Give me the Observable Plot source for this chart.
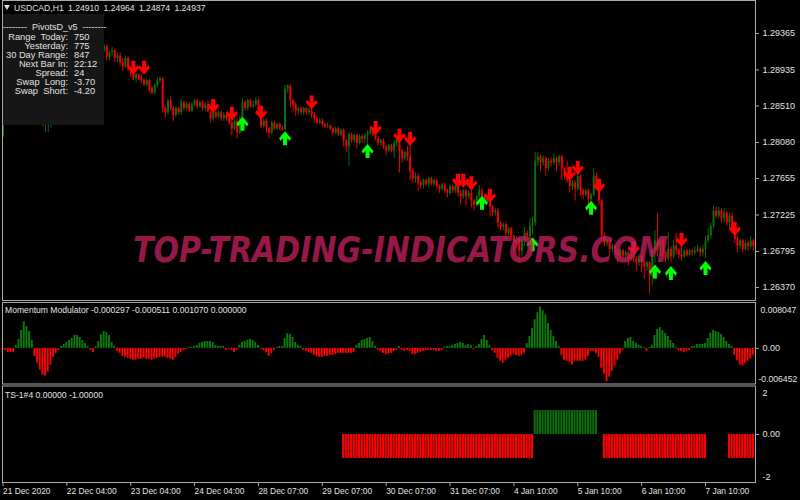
<!DOCTYPE html>
<html>
<head>
<meta charset="utf-8">
<script src="https://cdn.jsdelivr.net/npm/d3@7"></script>
<script src="https://cdn.jsdelivr.net/npm/@observablehq/plot@0.6"></script>
<style>
html,body{margin:0;padding:0;background:#000;}
#wrap{position:relative;width:800px;height:500px;overflow:hidden;background:#000;font-family:"Liberation Sans",Arial,sans-serif;color:#dcdcdc;}
#wrap svg{position:absolute;left:0;}
.t{position:absolute;white-space:pre;font-size:9px;line-height:10px;color:#e0e0e0;}
</style>
</head>
<body>
<div id="wrap"></div>
<script>
// ---------------- DATA ----------------
const opens = [
1.2816,1.2833,1.2831,1.2839,1.2836,1.2845,1.2840,1.2848,1.2852,1.2845,
1.2843,1.2850,1.2843,1.2838,1.2843,1.2836,1.2831,1.2838,1.2845,1.2852,
1.2859,1.2855,1.2864,1.2871,1.2866,1.2876,1.2885,1.2881,1.2892,1.2898,
1.2892,1.2904,1.2910,1.2904,1.2914,1.2909,1.2916,1.2921,1.2916,1.2921,
1.2908,1.2914,1.2916,1.2907,1.2910,1.2902,1.2897,1.2907,1.2895,1.2889,
1.2883,1.2888,1.2883,1.2881,1.2876,1.2881,1.2871,1.2866,1.2875,1.2881,
1.2883,1.2848,1.2843,1.2857,1.2848,1.2840,1.2848,1.2843,1.2855,1.2848,
1.2853,1.2845,1.2852,1.2857,1.2850,1.2855,1.2848,1.2852,1.2844,1.2836,
1.2843,1.2838,1.2843,1.2836,1.2840,1.2836,1.2831,1.2824,1.2833,1.2819,
1.2836,1.2855,1.2848,1.2857,1.2850,1.2852,1.2857,1.2843,1.2827,1.2833,
1.2824,1.2819,1.2831,1.2824,1.2829,1.2824,1.2823,1.2871,1.2874,1.2857,
1.2852,1.2845,1.2848,1.2843,1.2848,1.2843,1.2845,1.2840,1.2836,1.2831,
1.2833,1.2829,1.2826,1.2827,1.2824,1.2819,1.2824,1.2817,1.2822,1.2810,
1.2803,1.2817,1.2810,1.2816,1.2807,1.2815,1.2812,1.2816,1.2819,1.2822,
1.2817,1.2812,1.2807,1.2810,1.2803,1.2798,1.2804,1.2798,1.2807,1.2812,
1.2798,1.2789,1.2796,1.2791,1.2774,1.2765,1.2768,1.2760,1.2757,1.2763,
1.2759,1.2765,1.2759,1.2763,1.2756,1.2753,1.2758,1.2751,1.2748,1.2756,
1.2751,1.2756,1.2748,1.2744,1.2751,1.2744,1.2748,1.2739,1.2734,1.2744,
1.2751,1.2744,1.2739,1.2741,1.2732,1.2725,1.2727,1.2713,1.2708,1.2711,
1.2701,1.2706,1.2697,1.2689,1.2694,1.2680,1.2692,1.2701,1.2697,1.2709,
1.2713,1.2786,1.2791,1.2784,1.2789,1.2777,1.2786,1.2784,1.2789,1.2784,
1.2791,1.2777,1.2768,1.2763,1.2756,1.2760,1.2753,1.2768,1.2751,1.2746,
1.2751,1.2741,1.2746,1.2768,1.2757,1.2739,1.2698,1.2689,1.2692,1.2682,
1.2686,1.2680,1.2674,1.2680,1.2674,1.2678,1.2671,1.2675,1.2671,1.2666,
1.2674,1.2666,1.2661,1.2666,1.2650,1.2680,1.2692,1.2680,1.2692,1.2678,
1.2671,1.2682,1.2673,1.2686,1.2680,1.2675,1.2673,1.2680,1.2675,1.2680,
1.2678,1.2680,1.2682,1.2678,1.2682,1.2692,1.2698,1.2709,1.2727,1.2721,
1.2727,1.2718,1.2725,1.2713,1.2721,1.2704,1.2694,1.2686,1.2692,1.2682,
1.2689,1.2685,1.2692];
const highs = [
1.2836,1.2838,1.2843,1.2843,1.2850,1.2848,1.2852,1.2857,1.2855,1.2850,
1.2853,1.2852,1.2845,1.2848,1.2845,1.2839,1.2842,1.2848,1.2857,1.2863,
1.2864,1.2869,1.2875,1.2876,1.2881,1.2890,1.2890,1.2897,1.2904,1.2902,
1.2909,1.2916,1.2914,1.2918,1.2918,1.2921,1.2925,1.2924,1.2923,1.2923,
1.2916,1.2920,1.2918,1.2914,1.2914,1.2907,1.2910,1.2909,1.2897,1.2890,
1.2890,1.2889,1.2888,1.2883,1.2883,1.2882,1.2874,1.2877,1.2884,1.2885,
1.2884,1.2851,1.2859,1.2862,1.2850,1.2850,1.2850,1.2859,1.2857,1.2856,
1.2855,1.2855,1.2859,1.2859,1.2857,1.2857,1.2855,1.2857,1.2844,1.2845,
1.2845,1.2845,1.2845,1.2843,1.2843,1.2838,1.2835,1.2836,1.2836,1.2838,
1.2859,1.2857,1.2859,1.2859,1.2857,1.2861,1.2859,1.2843,1.2836,1.2836,
1.2826,1.2833,1.2833,1.2831,1.2831,1.2827,1.2875,1.2876,1.2876,1.2859,
1.2855,1.2850,1.2850,1.2850,1.2849,1.2848,1.2848,1.2843,1.2838,1.2836,
1.2836,1.2831,1.2831,1.2829,1.2826,1.2826,1.2826,1.2824,1.2824,1.2812,
1.2819,1.2819,1.2818,1.2818,1.2817,1.2817,1.2818,1.2822,1.2824,1.2824,
1.2818,1.2815,1.2812,1.2812,1.2805,1.2806,1.2806,1.2810,1.2815,1.2813,
1.2800,1.2798,1.2803,1.2804,1.2777,1.2772,1.2771,1.2763,1.2765,1.2765,
1.2767,1.2767,1.2765,1.2765,1.2758,1.2760,1.2760,1.2753,1.2758,1.2758,
1.2758,1.2757,1.2751,1.2753,1.2753,1.2751,1.2752,1.2741,1.2746,1.2757,
1.2754,1.2746,1.2744,1.2744,1.2734,1.2730,1.2730,1.2715,1.2713,1.2713,
1.2708,1.2708,1.2699,1.2697,1.2697,1.2694,1.2708,1.2704,1.2718,1.2720,
1.2796,1.2796,1.2793,1.2792,1.2791,1.2789,1.2790,1.2794,1.2791,1.2793,
1.2793,1.2779,1.2786,1.2764,1.2763,1.2763,1.2771,1.2770,1.2753,1.2753,
1.2753,1.2748,1.2777,1.2772,1.2759,1.2741,1.2701,1.2694,1.2694,1.2688,
1.2688,1.2682,1.2682,1.2682,1.2680,1.2680,1.2678,1.2676,1.2673,1.2676,
1.2676,1.2668,1.2668,1.2668,1.2682,1.2704,1.2724,1.2694,1.2694,1.2680,
1.2701,1.2685,1.2692,1.2701,1.2682,1.2685,1.2682,1.2682,1.2682,1.2682,
1.2685,1.2687,1.2685,1.2687,1.2697,1.2706,1.2713,1.2733,1.2732,1.2732,
1.2730,1.2730,1.2727,1.2725,1.2725,1.2705,1.2697,1.2694,1.2694,1.2692,
1.2692,1.2697,1.2694];
const lows = [
1.2813,1.2829,1.2830,1.2832,1.2833,1.2836,1.2838,1.2845,1.2842,1.2838,
1.2840,1.2838,1.2833,1.2835,1.2831,1.2826,1.2819,1.2820,1.2825,1.2850,
1.2851,1.2852,1.2862,1.2863,1.2864,1.2874,1.2876,1.2878,1.2890,1.2888,
1.2890,1.2901,1.2899,1.2902,1.2904,1.2907,1.2914,1.2910,1.2914,1.2904,
1.2904,1.2910,1.2902,1.2902,1.2898,1.2892,1.2895,1.2892,1.2885,1.2881,
1.2878,1.2881,1.2878,1.2874,1.2874,1.2866,1.2864,1.2864,1.2872,1.2878,
1.2843,1.2837,1.2840,1.2845,1.2833,1.2838,1.2840,1.2840,1.2845,1.2845,
1.2843,1.2843,1.2850,1.2848,1.2848,1.2845,1.2845,1.2843,1.2831,1.2833,
1.2836,1.2836,1.2833,1.2833,1.2833,1.2829,1.2816,1.2822,1.2812,1.2817,
1.2833,1.2845,1.2845,1.2848,1.2848,1.2850,1.2840,1.2824,1.2825,1.2819,
1.2812,1.2817,1.2822,1.2822,1.2822,1.2822,1.2822,1.2866,1.2849,1.2843,
1.2839,1.2840,1.2840,1.2840,1.2840,1.2840,1.2836,1.2831,1.2829,1.2829,
1.2826,1.2824,1.2824,1.2822,1.2816,1.2817,1.2815,1.2815,1.2803,1.2796,
1.2780,1.2807,1.2807,1.2800,1.2805,1.2807,1.2806,1.2806,1.2817,1.2815,
1.2810,1.2804,1.2803,1.2800,1.2792,1.2796,1.2796,1.2789,1.2803,1.2772,
1.2784,1.2786,1.2786,1.2763,1.2760,1.2760,1.2751,1.2753,1.2753,1.2756,
1.2756,1.2757,1.2756,1.2753,1.2748,1.2751,1.2748,1.2743,1.2746,1.2748,
1.2748,1.2744,1.2735,1.2741,1.2733,1.2741,1.2731,1.2727,1.2732,1.2741,
1.2741,1.2735,1.2737,1.2720,1.2721,1.2721,1.2706,1.2704,1.2704,1.2694,
1.2698,1.2692,1.2680,1.2685,1.2666,1.2674,1.2686,1.2692,1.2694,1.2699,
1.2709,1.2780,1.2774,1.2780,1.2768,1.2774,1.2779,1.2781,1.2774,1.2780,
1.2763,1.2765,1.2760,1.2748,1.2751,1.2739,1.2751,1.2744,1.2741,1.2744,
1.2733,1.2739,1.2744,1.2753,1.2733,1.2692,1.2685,1.2685,1.2674,1.2678,
1.2675,1.2666,1.2671,1.2671,1.2671,1.2662,1.2668,1.2666,1.2656,1.2662,
1.2654,1.2647,1.2656,1.2629,1.2639,1.2666,1.2673,1.2674,1.2671,1.2666,
1.2668,1.2666,1.2671,1.2675,1.2671,1.2668,1.2671,1.2673,1.2673,1.2674,
1.2675,1.2678,1.2673,1.2673,1.2671,1.2689,1.2694,1.2706,1.2718,1.2718,
1.2713,1.2713,1.2709,1.2708,1.2701,1.2689,1.2678,1.2682,1.2678,1.2680,
1.2680,1.2682,1.2680];
const closes = [
1.2833,1.2831,1.2839,1.2836,1.2845,1.2840,1.2848,1.2852,1.2845,1.2843,
1.2850,1.2843,1.2838,1.2843,1.2836,1.2831,1.2838,1.2845,1.2852,1.2859,
1.2855,1.2864,1.2871,1.2866,1.2876,1.2885,1.2881,1.2892,1.2898,1.2892,
1.2904,1.2910,1.2904,1.2914,1.2909,1.2916,1.2921,1.2916,1.2921,1.2908,
1.2914,1.2916,1.2907,1.2910,1.2902,1.2897,1.2907,1.2895,1.2889,1.2883,
1.2888,1.2883,1.2881,1.2876,1.2881,1.2871,1.2866,1.2875,1.2881,1.2883,
1.2848,1.2843,1.2857,1.2848,1.2840,1.2848,1.2843,1.2855,1.2848,1.2853,
1.2845,1.2852,1.2857,1.2850,1.2855,1.2848,1.2852,1.2845,1.2836,1.2843,
1.2838,1.2843,1.2836,1.2840,1.2836,1.2831,1.2824,1.2833,1.2819,1.2836,
1.2855,1.2848,1.2857,1.2850,1.2852,1.2857,1.2843,1.2827,1.2833,1.2824,
1.2819,1.2831,1.2824,1.2829,1.2824,1.2823,1.2871,1.2875,1.2857,1.2852,
1.2845,1.2848,1.2843,1.2848,1.2843,1.2845,1.2840,1.2836,1.2831,1.2833,
1.2829,1.2826,1.2827,1.2824,1.2819,1.2824,1.2817,1.2822,1.2810,1.2803,
1.2817,1.2810,1.2816,1.2807,1.2815,1.2812,1.2816,1.2819,1.2822,1.2817,
1.2812,1.2807,1.2810,1.2803,1.2798,1.2804,1.2798,1.2807,1.2812,1.2798,
1.2789,1.2796,1.2791,1.2774,1.2765,1.2768,1.2760,1.2757,1.2763,1.2759,
1.2765,1.2759,1.2763,1.2756,1.2753,1.2758,1.2751,1.2748,1.2756,1.2751,
1.2756,1.2748,1.2744,1.2751,1.2744,1.2748,1.2739,1.2734,1.2744,1.2751,
1.2744,1.2739,1.2741,1.2732,1.2725,1.2727,1.2713,1.2708,1.2711,1.2701,
1.2706,1.2697,1.2689,1.2694,1.2680,1.2692,1.2701,1.2697,1.2709,1.2713,
1.2786,1.2791,1.2784,1.2789,1.2777,1.2786,1.2784,1.2789,1.2784,1.2791,
1.2777,1.2768,1.2763,1.2756,1.2760,1.2753,1.2768,1.2751,1.2746,1.2751,
1.2741,1.2746,1.2768,1.2757,1.2739,1.2698,1.2689,1.2692,1.2682,1.2686,
1.2680,1.2674,1.2680,1.2674,1.2678,1.2671,1.2675,1.2671,1.2666,1.2674,
1.2666,1.2661,1.2666,1.2650,1.2680,1.2692,1.2680,1.2692,1.2678,1.2671,
1.2682,1.2673,1.2686,1.2680,1.2675,1.2673,1.2680,1.2675,1.2680,1.2678,
1.2680,1.2682,1.2678,1.2682,1.2692,1.2698,1.2709,1.2727,1.2721,1.2727,
1.2718,1.2725,1.2713,1.2721,1.2704,1.2694,1.2686,1.2692,1.2682,1.2689,
1.2685,1.2692,1.2685];

const momentum = [
-0.00038,-0.00038,-0.00077,-0.00077,-0.00077,0.00058,0.00173,0.00346,0.00518,0.00422,
0.00326,0.00154,-0.00154,-0.00288,-0.00422,-0.00518,-0.00538,-0.00461,-0.00326,-0.00173,
-0.00096,-0.00038,0.00038,0.00077,0.00115,0.00154,0.00192,0.00250,0.00250,0.00211,
0.00154,0.00096,0.00038,-0.00038,-0.00077,0.00038,0.00134,0.00269,0.00326,0.00307,
0.00250,0.00115,0.00038,-0.00058,-0.00096,-0.00154,-0.00173,-0.00192,-0.00211,-0.00230,
-0.00230,-0.00211,-0.00211,-0.00192,-0.00211,-0.00211,-0.00230,-0.00211,-0.00192,-0.00173,
-0.00173,-0.00173,-0.00192,-0.00211,-0.00230,-0.00173,-0.00115,-0.00077,-0.00038,-0.00019,
0.00019,0.00019,0.00038,0.00058,0.00096,0.00115,0.00134,0.00134,0.00134,0.00115,
0.00058,0.00038,0.00038,0.00038,-0.00038,-0.00019,-0.00038,-0.00077,-0.00038,0.00058,
0.00115,0.00134,0.00154,0.00173,0.00154,0.00115,0.00058,-0.00019,-0.00038,-0.00077,
-0.00154,-0.00096,-0.00038,0.00019,0.00038,0.00038,0.00192,0.00288,0.00269,0.00211,
0.00115,0.00058,0.00038,-0.00038,-0.00058,-0.00077,-0.00096,-0.00134,-0.00154,-0.00173,
-0.00173,-0.00154,-0.00154,-0.00134,-0.00134,-0.00115,-0.00096,-0.00096,-0.00096,-0.00096,
-0.00096,-0.00096,-0.00077,0.00058,0.00096,0.00154,0.00173,0.00192,0.00211,0.00134,
0.00038,-0.00038,-0.00058,-0.00096,-0.00115,-0.00115,-0.00096,-0.00058,-0.00038,0.00038,
-0.00038,-0.00058,-0.00038,-0.00058,-0.00115,-0.00115,-0.00096,-0.00077,-0.00058,-0.00038,
-0.00038,-0.00038,-0.00038,-0.00058,-0.00058,-0.00038,0.00019,0.00038,0.00038,0.00058,
0.00077,0.00096,0.00115,0.00096,0.00058,0.00077,0.00058,-0.00019,0.00038,0.00077,
0.00173,0.00250,0.00154,0.00058,-0.00038,-0.00096,-0.00192,-0.00250,-0.00288,-0.00230,
-0.00192,-0.00154,-0.00115,-0.00134,-0.00154,-0.00134,-0.00096,0.00096,0.00230,0.00384,
0.00557,0.00691,0.008047,0.00730,0.00653,0.00480,0.00346,0.00230,0.00134,0.00038,
-0.00134,-0.00230,-0.00250,-0.00269,-0.00326,-0.00250,-0.00250,-0.00250,-0.00250,-0.00230,
-0.00154,-0.00058,-0.00058,-0.00096,-0.00173,-0.00384,-0.00499,-0.006452,-0.00557,-0.00442,
-0.00346,-0.00230,-0.00115,-0.00038,0.00134,0.00192,0.00211,0.00134,0.00096,0.00058,
0.00038,0.00019,-0.00058,0.00019,0.00058,0.00250,0.00365,0.00403,0.00346,0.00288,
0.00230,0.00154,0.00096,0.00019,-0.00038,-0.00058,-0.00077,-0.00058,-0.00038,0.00038,
0.00038,0.00077,0.00077,0.00077,0.00096,0.00192,0.00288,0.00346,0.00326,0.00307,
0.00269,0.00211,0.00134,0.00077,0.00038,-0.00134,-0.00230,-0.00326,-0.00346,-0.00288,
-0.00250,-0.00211,-0.00134];

// TS-1 signal runs (bar index from, to, value)
const tsRunStart = [128, 200, 226, 273];
const tsRunEnd   = [199, 223, 264, 282];
const tsRunValue = [-1, 1, -1, -1];

// arrow signals (bar index, price)
const downBar = [49,53,79,86,97,116,140,149,153,171,173,176,183,213,216,224,237,255,275];
const downPrice = [1.2896,1.2896,1.2851,1.2842,1.2843,1.2855,1.2825,1.2816,1.2812,1.2763,1.2763,1.2760,1.2745,1.2771,1.2778,1.2757,1.2683,1.2693,1.2706];
const upBar = [90,106,137,180,199,221,245,251,264];
const upPrice = [1.2830,1.2813,1.2798,1.2737,1.2688,1.2731,1.2656,1.2654,1.2660];

const priceTicks = [1.29365,1.28935,1.28510,1.28080,1.27655,1.27225,1.26795,1.26370];
const timeTickBars = [0,24,48,72,96,120,144,168,192,216,240,264];
const timeTickLabels = ["21 Dec 2020","22 Dec 04:00","23 Dec 04:00","24 Dec 04:00","28 Dec 07:00","29 Dec 07:00","30 Dec 07:00","31 Dec 07:00","4 Jan 10:00","5 Jan 10:00","6 Jan 10:00","7 Jan 10:00"];

const headerText = "USDCAD,H1 1.24910 1.24964 1.24874 1.24937";
const pivotTitle = "--------  PivotsD_v5  --------";
const pivotLabels = ["Range  Today:","Yesterday:","30 Day Range:","Next Bar In:","Spread:","Swap  Long:","Swap  Short:"];
const pivotValues = ["750","775","847","22:12","24","-3.70","-4.20"];
const momLabel = "Momentum Modulator -0.000297 -0.000511 0.001070 0.000000";
const tsLabel = "TS-1#4 0.00000 -1.00000";
const watermark = "TOP-TRADING-INDICATORS.COM";

// ---------------- TABLES ----------------
const candles = opens.map((o, i) => ({i, o, h: highs[i], l: lows[i], c: closes[i]}));
const bull = candles.filter(d => d.c >= d.o);
const bear = candles.filter(d => d.c < d.o);
const mom = momentum.map((v, i) => ({i, v}));
const ts = [];
tsRunStart.forEach((s, k) => { for (let i = s; i <= tsRunEnd[k]; i++) ts.push({i, v: tsRunValue[k]}); });
const downs = downBar.map((i, k) => ({i, p: downPrice[k]}));
const ups = upBar.map((i, k) => ({i, p: upPrice[k]}));

const arrowDown = {draw(ctx){
  ctx.moveTo(-2,-7); ctx.lineTo(2,-7); ctx.lineTo(2,0); ctx.lineTo(4.6,-2.6); ctx.lineTo(6,0);
  ctx.lineTo(0,7); ctx.lineTo(-6,0); ctx.lineTo(-4.6,-2.6); ctx.lineTo(-2,0); ctx.closePath();
}};
const arrowUp = {draw(ctx){
  ctx.moveTo(-2,7); ctx.lineTo(2,7); ctx.lineTo(2,0); ctx.lineTo(4.6,2.6); ctx.lineTo(6,0);
  ctx.lineTo(0,-7); ctx.lineTo(-6,0); ctx.lineTo(-4.6,2.6); ctx.lineTo(-2,0); ctx.closePath();
}};

const BULL = "#0b6e0b", BEAR = "#f00000", FRAME = "#aaaaaa";
const xScale = {domain: [0, 282], range: [2.5, 752.9], axis: null};
const baseStyle = {background: "transparent", color: "#e0e0e0", fontFamily: "Liberation Sans, Arial, sans-serif", fontSize: "9px", overflow: "visible"};
const wrap = document.getElementById("wrap");

// ---------------- MAIN PRICE PANEL ----------------
const A = Plot.plot({
  width: 800, height: 301, marginLeft: 2, marginRight: 45, marginTop: 0, marginBottom: 1,
  style: baseStyle,
  x: xScale,
  y: {domain: [1.26217, 1.29754], range: [300, 0]},
  marks: [
    Plot.ruleX(bull, {x: "i", y1: "l", y2: "h", stroke: BULL, strokeWidth: 1}),
    Plot.ruleX(bear, {x: "i", y1: "l", y2: "h", stroke: BEAR, strokeWidth: 1}),
    Plot.ruleX(bull, {x: "i", y1: "o", y2: "c", stroke: BULL, strokeWidth: 2}),
    Plot.ruleX(bear, {x: "i", y1: "o", y2: "c", stroke: BEAR, strokeWidth: 2}),
    Plot.dot(downs, {x: "i", y: "p", symbol: arrowDown, r: 5, fill: "#ff0000", stroke: "none"}),
    Plot.dot(ups, {x: "i", y: "p", symbol: arrowUp, r: 5, fill: "#00ff00", stroke: "none"}),
    Plot.frame({stroke: FRAME}),
    Plot.axisY(priceTicks, {anchor: "right", tickSize: 3, tickPadding: 4, tickFormat: d => d.toFixed(5), label: null, stroke: FRAME})
  ]
});
A.style.top = "0px";
wrap.appendChild(A);

// ---------------- MOMENTUM PANEL ----------------
const B = Plot.plot({
  width: 800, height: 84, marginLeft: 2, marginRight: 45, marginTop: 1, marginBottom: 1.5,
  style: baseStyle,
  x: xScale,
  y: {domain: [-0.0070, 0.0087], range: [83, 2]},
  marks: [
    Plot.rectY(mom.filter(d => d.v >= 0), {x1: d => d.i - 0.36, x2: d => d.i + 0.36, y1: d => 0, y2: "v", fill: "#0b7a0b"}),
    Plot.rectY(mom.filter(d => d.v < 0), {x1: d => d.i - 0.36, x2: d => d.i + 0.36, y1: d => 0, y2: "v", fill: "#ff0000"}),
    Plot.frame({stroke: FRAME}),
    Plot.axisY([0.008047], {anchor: "right", tickSize: 0, tickPadding: 5, dy: 3.5, fontSize: 8.6, tickFormat: d => d.toFixed(6), label: null}),
    Plot.axisY([0], {anchor: "right", tickSize: 3, tickPadding: 4, tickFormat: d => "0.00", label: null, stroke: FRAME}),
    Plot.axisY([-0.006452], {anchor: "right", tickSize: 0, tickPadding: 3, dy: -2, fontSize: 8.6, tickFormat: d => d.toFixed(6), label: null})
  ]
});
B.style.top = "301px";
wrap.appendChild(B);

// ---------------- TS-1 PANEL ----------------
const C = Plot.plot({
  width: 800, height: 116, marginLeft: 2, marginRight: 45, marginTop: 1.5, marginBottom: 18,
  style: baseStyle,
  x: {domain: [0, 282], range: [2.5, 752.9]},
  y: {domain: [-2, 2], range: [98, 2]},
  marks: [
    Plot.rectY(ts.filter(d => d.v > 0), {x1: d => d.i - 0.4, x2: d => d.i + 0.4, y1: d => 0, y2: "v", fill: "#0a6a0a"}),
    Plot.rectY(ts.filter(d => d.v < 0), {x1: d => d.i - 0.4, x2: d => d.i + 0.4, y1: d => 0, y2: "v", fill: "#ff0000"}),
    Plot.frame({stroke: FRAME}),
    Plot.axisY([2], {anchor: "right", tickSize: 0, tickPadding: 7, dy: 7, tickFormat: d => "2", label: null}),
    Plot.axisY([0], {anchor: "right", tickSize: 3, tickPadding: 4, tickFormat: d => "0.00", label: null, stroke: FRAME}),
    Plot.axisY([-2], {anchor: "right", tickSize: 0, tickPadding: 7, dy: -5, tickFormat: d => "-2", label: null}),
    Plot.axisX(timeTickBars, {anchor: "bottom", tickSize: 4, tickPadding: 2, textAnchor: "start", dx: 0, fontSize: 8.4,
      tickFormat: d => timeTickLabels[timeTickBars.indexOf(d)], label: null, stroke: FRAME})
  ]
});
C.style.top = "384px";
wrap.appendChild(C);

// ---------------- WATERMARK ----------------
const wm = d3.create("svg").attr("width", 800).attr("height", 500)
  .style("top", "0px").style("left", "0px").style("pointer-events", "none");
wm.append("text").attr("x", 133).attr("y", 262)
  .attr("textLength", 535).attr("lengthAdjust", "spacingAndGlyphs")
  .attr("font-family", "DejaVu Sans, Liberation Sans, sans-serif").attr("font-weight", "bold").attr("font-style", "italic")
  .attr("font-size", 35).attr("fill", "#c01f5e").attr("fill-opacity", 0.8)
  .text(watermark);
wrap.appendChild(wm.node());

// ---------------- TEXT OVERLAYS ----------------
function addText(txt, left, cy, extra) {
  const d = document.createElement("div");
  d.className = "t";
  d.textContent = txt;
  d.style.left = left + "px";
  d.style.top = (cy - 5) + "px";
  if (extra) Object.assign(d.style, extra);
  wrap.appendChild(d);
  return d;
}
const tri = document.createElement("div");
Object.assign(tri.style, {position: "absolute", left: "4px", top: "5px", width: "0", height: "0",
  borderLeft: "3.5px solid transparent", borderRight: "3.5px solid transparent", borderTop: "5px solid #dcdcdc"});
wrap.appendChild(tri);
addText(headerText, 14, 8, {fontSize: "8.6px", wordSpacing: "2px"});

const box = document.createElement("div");
Object.assign(box.style, {position: "absolute", left: "3px", top: "14px", width: "101px", height: "111px", background: "#161616"});
wrap.appendChild(box);
addText(pivotTitle, 3, 27, {width: "101px", textAlign: "center"});
pivotLabels.forEach((lab, k) => {
  const cy = 36.5 + k * 9;
  addText(lab, 0, cy, {width: "68px", textAlign: "right", fontSize: "9.3px"});
  addText(pivotValues[k], 74, cy, {fontSize: "9.3px"});
});

addText(momLabel, 5, 310, {fontSize: "8.6px"});
addText(tsLabel, 5, 395, {fontSize: "8.6px"});
</script>
</body>
</html>
